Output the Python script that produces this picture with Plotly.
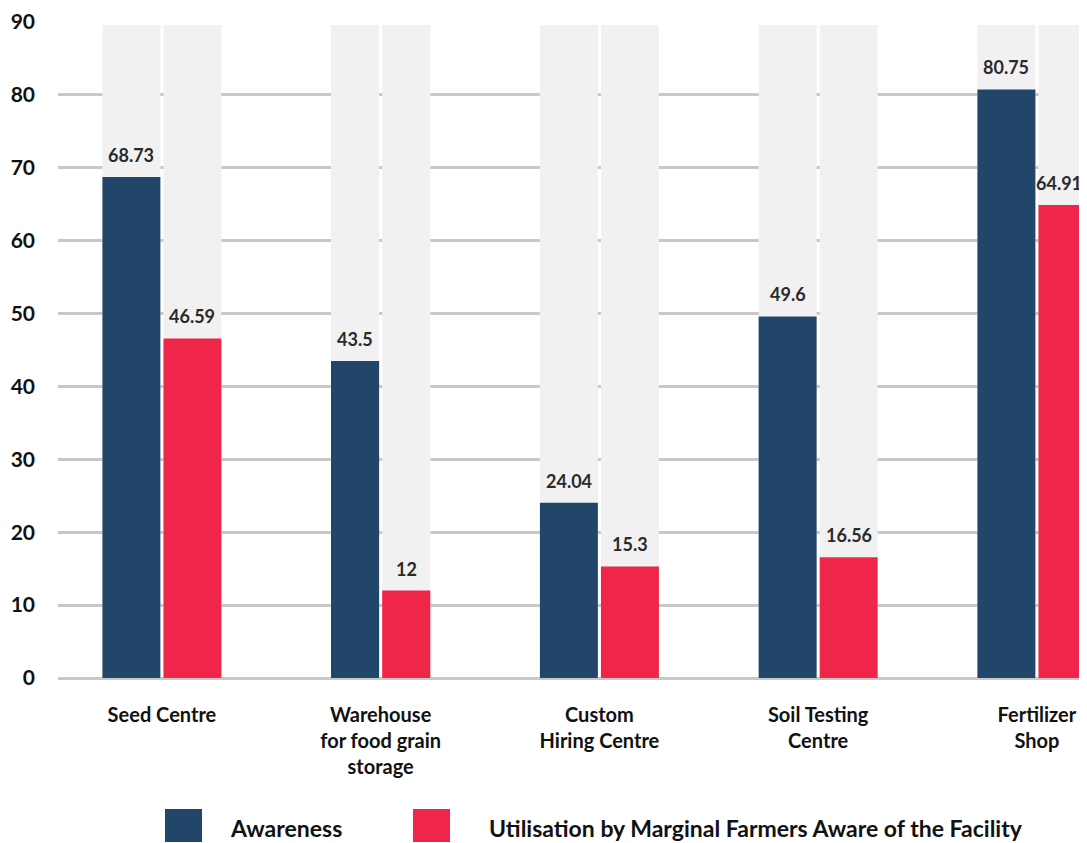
import plotly.graph_objects as go

categories = ["Seed Centre", "Warehouse<br>for food grain<br>storage", "Custom<br>Hiring Centre",
              "Soil Testing<br>Centre", "Fertilizer<br>Shop"]
awareness = [68.73, 43.5, 24.04, 49.6, 80.75]
utilisation = [46.59, 12, 15.3, 16.56, 64.91]
series_names = ["Awareness", "Utilisation by Marginal Farmers Aware of the Facility"]
y_ticks = [0, 10, 20, 30, 40, 50, 60, 70, 80, 90]

# styles
NAVY = "#22466A"
RED = "#EF264A"
GREY = "#F1F1F1"
FONT = "Lato"
bar_w = [0.265, 0.22, 0.265, 0.265, 0.265]
gap = 0.007
bg_top = 89.6

xs = list(range(len(categories)))
fig = go.Figure()

navy_off = [-(w + gap) for w in bar_w]
red_off = [gap for _ in bar_w]

# background grey columns
for off in (navy_off, red_off):
    fig.add_trace(go.Bar(x=xs, y=[bg_top] * len(xs), offset=off, width=bar_w,
                         marker=dict(color=GREY, line=dict(width=0)),
                         hoverinfo="skip", showlegend=False))

fig.add_trace(go.Bar(x=xs, y=awareness, offset=navy_off, width=bar_w, name=series_names[0],
                     marker=dict(color=NAVY, line=dict(width=0)), showlegend=False))
fig.add_trace(go.Bar(x=xs, y=utilisation, offset=red_off, width=bar_w, name=series_names[1],
                     marker=dict(color=RED, line=dict(width=0)), showlegend=False))

annotations = []
for i, x in enumerate(xs):
    for j, (vals, off) in enumerate(((awareness, navy_off), (utilisation, red_off))):
        last = (i == len(xs) - 1 and j == 1)
        annotations.append(dict(x=x + off[i] + bar_w[i] / 2, y=vals[i], xref="x", yref="y",
                                text=f"{vals[i]:g}", showarrow=False, yanchor="bottom",
                                yshift=9, xshift=-8 if last else 0,
                                font=dict(family=FONT, size=18, color="#2a2a2a", weight="bold")))

# manual legend (page pixel helpers; figure sits 8px in from the page corner)
OFF = 8
ML, MT = 58 - OFF, 22 - OFF
px_w, py_h = 1029, 656
def xp(p): return (p - 58) / px_w
def yp(p): return (678 - p) / py_h

shapes = [
    dict(type="rect", xref="paper", yref="paper", x0=xp(165), x1=xp(202), y0=yp(842), y1=yp(809),
         fillcolor=NAVY, line=dict(width=0)),
    dict(type="rect", xref="paper", yref="paper", x0=xp(413), x1=xp(450), y0=yp(842), y1=yp(809),
         fillcolor=RED, line=dict(width=0)),
]
annotations.append(dict(xref="paper", yref="paper", x=xp(228), y=yp(828), xanchor="left", yanchor="middle",
                        text=series_names[0], showarrow=False,
                        font=dict(family=FONT, size=23, color="#111", weight="bold")))
annotations.append(dict(xref="paper", yref="paper", x=xp(487), y=yp(828), xanchor="left", yanchor="middle",
                        text=series_names[1], showarrow=False,
                        font=dict(family=FONT, size=23, color="#111", weight="bold")))

fig.update_layout(
    width=1087 - OFF, height=843 - OFF,
    margin=dict(l=ML, r=0, t=MT, b=843 - OFF - MT - py_h),
    plot_bgcolor="white", paper_bgcolor="white",
    barmode="overlay",
    showlegend=False,
    annotations=annotations,
    shapes=shapes,
    xaxis=dict(range=[-0.475, 4.229], tickvals=xs, ticktext=categories, showgrid=False,
               zeroline=False, showline=False, ticks="", ticklabelstandoff=23,
               tickfont=dict(family=FONT, size=20, color="#111", weight="bold")),
    yaxis=dict(range=[0, 90], tickvals=y_ticks, showgrid=True, gridcolor="#C8C8C8", gridwidth=2.5,
               zeroline=True, zerolinecolor="#C8C8C8", zerolinewidth=3, showline=False, ticks="",
               ticklabelstandoff=22,
               tickfont=dict(family=FONT, size=21, color="#111", weight="bold")),
)

fig.write_html("out.html")
